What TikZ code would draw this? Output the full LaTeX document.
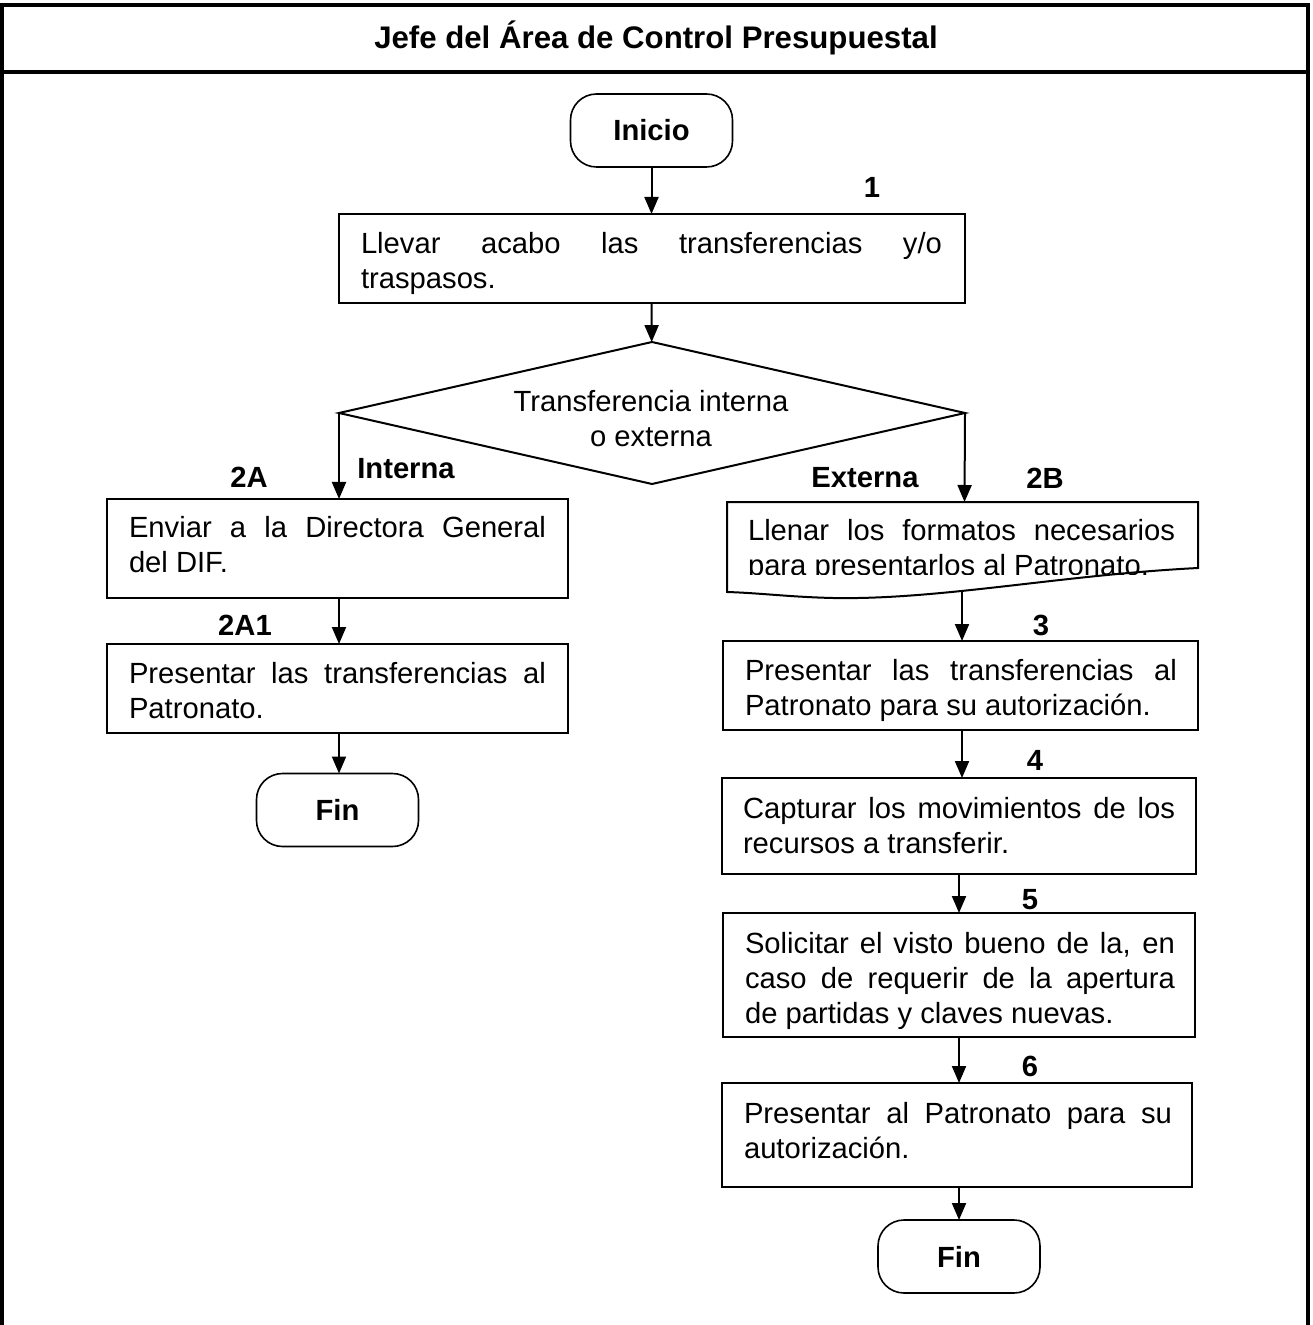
\documentclass[tikz,border=0pt]{standalone}
\usepackage{fontspec}
\setmainfont{Liberation Sans}
\usetikzlibrary{shapes.geometric,arrows.meta}
\begin{document}
\begin{tikzpicture}[x=0.5pt,y=-0.5pt,
  txt/.style={font=\fontsize{14.6pt}{17.5pt}\selectfont},
  procbox/.style={draw,line width=1pt,rectangle,inner sep=0pt,outer sep=0pt},
  blk/.style={txt,inner sep=0pt,align=justify},
  term/.style={draw,line width=0.8pt,rounded corners=13pt,minimum width=81pt,minimum height=36.5pt,font=\fontsize{14.6pt}{17.5pt}\selectfont\bfseries,outer sep=0pt},
  lbl/.style={font=\fontsize{14.6pt}{17.5pt}\selectfont\bfseries,inner sep=0pt},
  arr/.style={line width=1pt,-{Triangle[length=8.5pt,width=7pt]}},
  frameline/.style={line width=2pt}]

\useasboundingbox (0,0) rectangle (1312,1325);

% frame
\draw[frameline] (2,1326) -- (2,5) -- (1307.5,5) -- (1307.5,1326);
\draw[frameline] (2,72) -- (1307.5,72);
\node[font=\fontsize{15.6pt}{18pt}\selectfont\bfseries] (title) at (656,38) {Jefe del Área de Control Presupuestal};

% start
\node[term] (ini) at (651.5,130.5) {Inicio};

\node[procbox,minimum width=313pt,minimum height=44.5pt] (b1) at (651.5,258.5) {};
\node[blk,text width=290.5pt] (b1t) at (651.5,263.5)
  {Llevar acabo las transferencias y/o\linebreak traspasos.};

% decision
\node[diamond,draw,line width=1pt,minimum width=313pt,minimum height=71pt,inner sep=0pt,outer sep=0pt] (d) at (652,413) {};
\node[txt,align=center] (dt) at (651,419) {Transferencia interna\\o externa};

% left branch
\node[procbox,minimum width=230.5pt,minimum height=49.5pt] (b2A) at (337.5,548.5) {};
\node[blk,text width=208.5pt] (b2At) at (337.5,544.5)
  {Enviar a la Directora General\linebreak del DIF.};
\node[procbox,minimum width=230.5pt,minimum height=44.5pt] (b2A1) at (337.5,688.5) {};
\node[blk,text width=208.5pt] (b2A1t) at (337.5,690.5)
  {Presentar las transferencias al\linebreak Patronato.};
\node[term] (fin1) at (337.5,810) {Fin};

% right branch: document shape
\draw[line width=1pt] (727,502) -- (1198,502) -- (1198,568)
  .. controls (1060,575) and (940,600) .. (833,598)
  .. controls (790,597) and (760,593) .. (727,592) -- cycle;
\coordinate (t2B) at (964.5,502);
\coordinate (u2B) at (962,591);
\begin{scope}
  \clip (700,490) rectangle (1220,574);
  \node[blk,text width=213.5pt] (b2B) at (961.5,550)
    {\parfillskip=0pt Llenar los formatos necesarios\linebreak para presentarlos al Patronato.};
\end{scope}

\node[procbox,minimum width=237.5pt,minimum height=44.5pt] (b3) at (960.5,685.5) {};
\node[blk,text width=216pt] (b3t) at (961,690.5)
  {Presentar las transferencias al\linebreak Patronato para su autorización.};
\node[procbox,minimum width=237pt,minimum height=48pt] (b4) at (959,826) {};
\node[blk,text width=216pt] (b4t) at (959,825.5)
  {Capturar los movimientos de los\linebreak recursos a transferir.};
\node[procbox,minimum width=236pt,minimum height=62pt] (b5) at (959,975) {};
\node[blk,text width=215pt] (b5t) at (960,980.5)
  {Solicitar el visto bueno de la, en\linebreak caso de requerir de la apertura\linebreak de partidas y claves nuevas.};
\node[procbox,minimum width=235pt,minimum height=52pt] (b6) at (957,1135) {};
\node[blk,text width=214pt] (b6t) at (958,1130.5)
  {Presentar al Patronato para su\linebreak autorización.};
\node[term] (fin2) at (959,1256.5) {Fin};

% labels
\node[lbl] (l1) at (872,187) {1};
\node[lbl] (l2A) at (249,477) {2A};
\node[lbl] (lint) at (406,469) {Interna};
\node[lbl] (l2A1) at (245,625) {2A1};
\node[lbl] (lext) at (865,478) {Externa};
\node[lbl] (l2B) at (1045,478) {2B};
\node[lbl] (l3) at (1041,625) {3};
\node[lbl] (l4) at (1035,760) {4};
\node[lbl] (l5) at (1030,900) {5};
\node[lbl] (l6) at (1030,1066) {6};

% connectors
\draw[arr] (ini) -- (ini |- b1.north);
\draw[arr] (b1.south -| ini) -- (d);
\draw[arr] (d.west) -- (d.west |- b2A.north);
\draw[arr] (b2A.south -| d.west) -- (b2A1.north -| d.west);
\draw[arr] (b2A1.south -| d.west) -- (fin1.north -| d.west);
\draw[arr] (d.east) -- (t2B);
\draw[arr] (u2B) -- (u2B |- b3.north);
\draw[arr] (b3.south -| u2B) -- (b4.north -| u2B);
\draw[arr] (b4.south) -- (b4.south |- b5.north);
\draw[arr] (b5.south) -- (b5.south |- b6.north);
\draw[arr] (b6.south -| fin2) -- (fin2);
\end{tikzpicture}
\end{document}
